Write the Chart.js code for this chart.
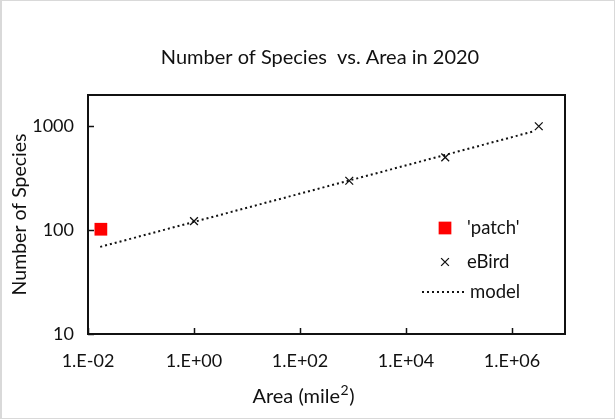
<!DOCTYPE html>
<html lang="en">
<head>
<meta charset="UTF-8"/>
<title>Number of Species vs. Area</title>
<script src="https://cdn.jsdelivr.net/npm/chart.js@4.4.1/dist/chart.umd.min.js"></script>
<style>
  body { margin:0; background:#fff; }
  #box { position:absolute; left:0; top:0; width:612px; height:417px; border:1px solid #d9d9d9; border-left-width:2px; background:#fff; }
</style>
</head>
<body>
<div id="box"><canvas id="Chart" width="612" height="417"></canvas></div>
<script>
// values
const patchArea = [0.0175];
const patchSpecies = [102];
const ebirdArea = [1.0, 850, 55000, 3.2e6];
const ebirdSpecies = [122, 299, 501, 1000];
const modelArea = [0.017, 2.7e6];
const modelSpecies = [69, 900];
const xTicks = [0.01, 1, 100, 1e4, 1e6];
const xTickLabels = ['1.E-02', '1.E+00', '1.E+02', '1.E+04', '1.E+06'];
const yTicks = [10, 100, 1000];
const yTickLabels = ['10', '100', '1000'];
const chartTitle = 'Number of Species  vs. Area in 2020';
const xTitleParts = ['Area (mile', '2', ')'];   // middle part is the superscript

const FONT = "Lato, 'Open Sans', sans-serif";
const ink = '#111';

function pts(xs, ys){ return xs.map((x,i)=>({x:x, y:ys[i]})); }

// chart title and x axis title, placed off-centre like the original
const titles = {
  id:'titles',
  afterDraw(chart){
    const c = chart.ctx;
    c.save();
    c.fillStyle = ink;
    c.textAlign = 'center';
    c.textBaseline = 'middle';
    c.font = '20px ' + FONT;
    c.fillText(chartTitle, 318, 57);

    // x title with a real superscript
    const big = '20px ' + FONT, small = '14px ' + FONT;
    c.font = big;  const w0 = c.measureText(xTitleParts[0]).width, w2 = c.measureText(xTitleParts[2]).width;
    c.font = small; const w1 = c.measureText(xTitleParts[1]).width;
    let x = 301 - (w0 + w1 + w2) / 2;
    c.textAlign = 'left';
    c.textBaseline = 'alphabetic';
    const base = 402;
    c.font = big;   c.fillText(xTitleParts[0], x, base); x += w0;
    c.font = small; c.fillText(xTitleParts[1], x + 0.5, base - 8); x += w1 + 1;
    c.font = big;   c.fillText(xTitleParts[2], x, base);
    c.restore();
  }
};

// plot frame + inside tick marks (Excel style)
const frame = {
  id:'frame',
  afterDatasetsDraw(chart){
    const {ctx, chartArea:a, scales} = chart;
    ctx.save();
    ctx.strokeStyle = ink;
    ctx.lineWidth = 1.5;
    xTicks.forEach(v=>{
      const px = Math.round(scales.x.getPixelForValue(v)) + 0.5;
      ctx.beginPath(); ctx.moveTo(px, a.bottom); ctx.lineTo(px, a.bottom - 6); ctx.stroke();
    });
    yTicks.forEach(v=>{
      const py = Math.round(scales.y.getPixelForValue(v)) + 0.5;
      ctx.beginPath(); ctx.moveTo(a.left, py); ctx.lineTo(a.left + 6, py); ctx.stroke();
    });
    ctx.lineWidth = 2;
    ctx.strokeRect(a.left, a.top, a.right - a.left, a.bottom - a.top);
    ctx.restore();
  }
};

// legend drawn inside the plot, lower right
const innerLegend = {
  id:'innerLegend',
  afterDraw(chart){
    const {ctx, chartArea:a} = chart;
    const mx = a.right - 120, tx = a.right - 98;
    const rows = [a.bottom - 106, a.bottom - 72, a.bottom - 42];
    ctx.save();
    ctx.font = '18.5px ' + FONT;
    ctx.textBaseline = 'middle';
    chart.data.datasets.forEach((ds, i)=>{
      const y = rows[i];
      if (ds.showLine) {
        ctx.strokeStyle = ds.borderColor; ctx.lineWidth = ds.borderWidth;
        ctx.setLineDash(ds.borderDash);
        ctx.beginPath(); ctx.moveTo(mx - 23, y); ctx.lineTo(mx + 19, y); ctx.stroke();
        ctx.setLineDash([]);
      } else {
        ctx.fillStyle = ds.pointBackgroundColor; ctx.strokeStyle = ds.pointBorderColor;
        ctx.lineWidth = ds.borderWidth;
        Chart.helpers.drawPoint(ctx, {pointStyle: ds.pointStyle, radius: ds.pointRadius, borderWidth: ds.borderWidth}, mx, y);
      }
      ctx.fillStyle = ink;
      ctx.fillText(ds.label, ds.showLine ? tx + 3 : tx, y);
    });
    ctx.restore();
  }
};

const ctx = document.getElementById('Chart').getContext('2d');
const chart = new Chart(ctx, {
  type: 'scatter',
  data: {
    datasets: [
      {
        label: "'patch'",
        data: pts(patchArea, patchSpecies),
        pointStyle: 'rect', pointRadius: 9,
        pointBackgroundColor: '#ff0000', pointBorderColor: '#ff0000',
        backgroundColor: '#ff0000', borderColor: '#ff0000', borderWidth: 0,
        showLine: false, order: 1
      },
      {
        label: 'eBird',
        data: pts(ebirdArea, ebirdSpecies),
        pointStyle: 'crossRot', pointRadius: 5.5,
        pointBackgroundColor: ink, pointBorderColor: ink,
        borderColor: ink, borderWidth: 1.3,
        showLine: false, order: 0
      },
      {
        label: 'model',
        data: pts(modelArea, modelSpecies),
        showLine: true, pointRadius: 0,
        borderColor: ink, borderWidth: 2, borderDash: [2, 3],
        fill: false, order: 2
      }
    ]
  },
  options: {
    responsive: false,
    animation: false,
    layout: { padding: { left: 0, right: 49, top: 94, bottom: 0 } },
    plugins: {
      legend: { display: false },
      tooltip: { enabled: false },
      title: { display: false }
    },
    scales: {
      x: {
        type: 'logarithmic',
        min: 0.01, max: 1e7,
        afterBuildTicks: s => { s.ticks = xTicks.map(v=>({value:v})); },
        afterFit: s => { s.height = 84; },
        grid: { display: false, drawTicks: false },
        border: { display: false },
        ticks: {
          autoSkip: false, maxRotation: 0, padding: 16,
          color: ink, font: { family: FONT, size: 18 },
          callback: (v, i) => xTickLabels[i]
        },
        title: { display: false }
      },
      y: {
        type: 'logarithmic',
        min: 10, max: 2000,
        afterBuildTicks: s => { s.ticks = yTicks.map(v=>({value:v})); },
        afterFit: s => { s.width = 86; },
        grid: { display: false, drawTicks: false },
        border: { display: false },
        ticks: {
          autoSkip: false, padding: 14,
          color: ink, font: { family: FONT, size: 18 },
          callback: (v, i) => yTickLabels[i]
        },
        title: {
          display: true, text: 'Number of Species', color: ink,
          font: { family: FONT, size: 19.5 }, padding: { top: 6, bottom: 0 }
        }
      }
    }
  },
  plugins: [frame, innerLegend, titles]
});
</script>
</body>
</html>
